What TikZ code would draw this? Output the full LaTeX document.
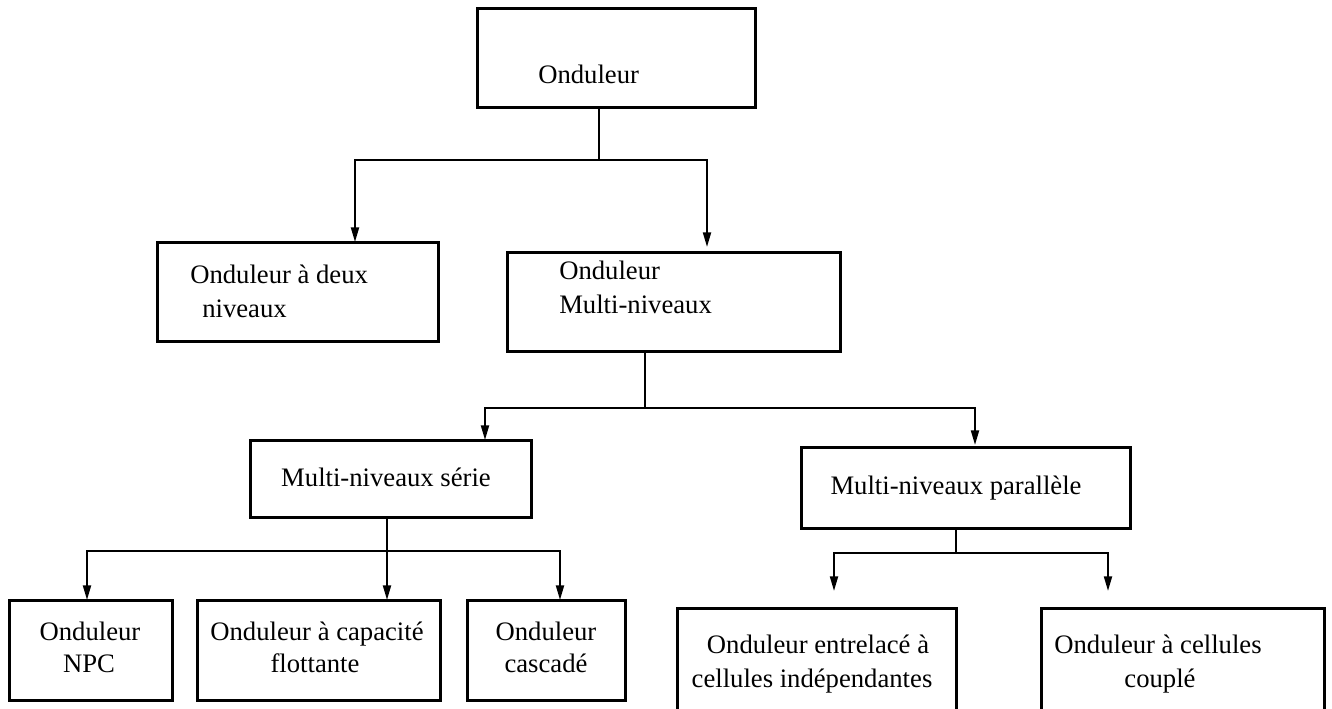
\documentclass[tikz,border=0pt]{standalone}
\usepackage{fontspec}
\setmainfont{Liberation Serif}
\usetikzlibrary{arrows.meta,fit}
\begin{document}
\begin{tikzpicture}[x=0.75pt,y=-0.75pt,
  box/.style={draw,line width=2.25pt,inner sep=0pt},
  lbl/.style={font=\fontsize{20}{24}\selectfont,inner sep=0pt,anchor=base},
  lblw/.style={lbl,anchor=base west},
  conn/.style={line width=1.5pt},
  arr/.style={line width=1.5pt,-{Triangle[width=6pt,length=11pt]}}]
\useasboundingbox (0,0) rectangle (1332,708);
\clip (0,0) rectangle (1332,708);
% boxes
\node[box,fit={(477,8) (755,107)}] (top) {};
\node[box,fit={(157,242) (438,341)}] (deux) {};
\node[box,fit={(507,252) (840,351)}] (multi) {};
\node[box,fit={(250,440) (531,517)}] (serie) {};
\node[box,fit={(801,447) (1130,528)}] (para) {};
\node[box,fit={(9,600) (172,700)}] (npc) {};
\node[box,fit={(197,600) (440,700)}] (capa) {};
\node[box,fit={(467,600) (625,700)}] (casc) {};
\node[box,fit={(677,608) (956,725)}] (entr) {};
\node[box,fit={(1041,608) (1324,725)}] (coup) {};
% texts
\node[lblw] (ttop) at (538,83) {Onduleur};
\node[lblw] (tdeuxa) at (190,283) {Onduleur à deux};
\node[lblw] (tdeuxb) at (202,317) {niveaux};
\node[lblw] (tmula) at (559,279) {Onduleur};
\node[lblw] (tmulb) at (559,313) {Multi-niveaux};
\node[lbl] (tser) at (386,486) {Multi-niveaux série};
\node[lbl] (tpar) at (956,494) {Multi-niveaux parallèle};
\node[lbl] (tnpca) at (90,640) {Onduleur};
\node[lbl] (tnpcb) at (89,672) {NPC};
\node[lbl] (tcapa) at (317,640) {Onduleur à capacité};
\node[lbl] (tcapb) at (315,672) {flottante};
\node[lbl] (tcasa) at (546,640) {Onduleur};
\node[lbl] (tcasb) at (546,672) {cascadé};
\node[lbl] (tentra) at (818,653) {Onduleur entrelacé à};
\node[lbl] (tentrb) at (812,687) {cellules indépendantes};
\node[lbl] (tcoupa) at (1158,653) {Onduleur à cellules};
\node[lbl] (tcoupb) at (1160,687) {couplé};
% junctions and arrow tips
\coordinate (j1) at (599,160);
\coordinate (a1) at (355,242);
\coordinate (a2) at (707,247);
\coordinate (j2) at (645,408);
\coordinate (a3) at (485,440);
\coordinate (a4) at (975,445);
\coordinate (j3) at (387,551);
\coordinate (a5) at (87,600);
\coordinate (a6) at (387,600);
\coordinate (a7) at (560,600);
\coordinate (j4) at (956,553);
\coordinate (a8) at (834,591);
\coordinate (a9) at (1108,591);
% connectors
\draw[conn] (top.south -| j1) -- (j1);
\draw[arr] (j1) -| (a1);
\draw[arr] (j1) -| (a2);
\draw[conn] (multi.south -| j2) -- (j2);
\draw[arr] (j2) -| (a3);
\draw[arr] (j2) -| (a4);
\draw[conn] (serie.south -| j3) -- (j3);
\draw[arr] (j3) -| (a5);
\draw[arr] (j3) -- (a6);
\draw[arr] (j3) -| (a7);
\draw[conn] (para.south -| j4) -- (j4);
\draw[arr] (j4) -| (a8);
\draw[arr] (j4) -| (a9);
\end{tikzpicture}
\end{document}
